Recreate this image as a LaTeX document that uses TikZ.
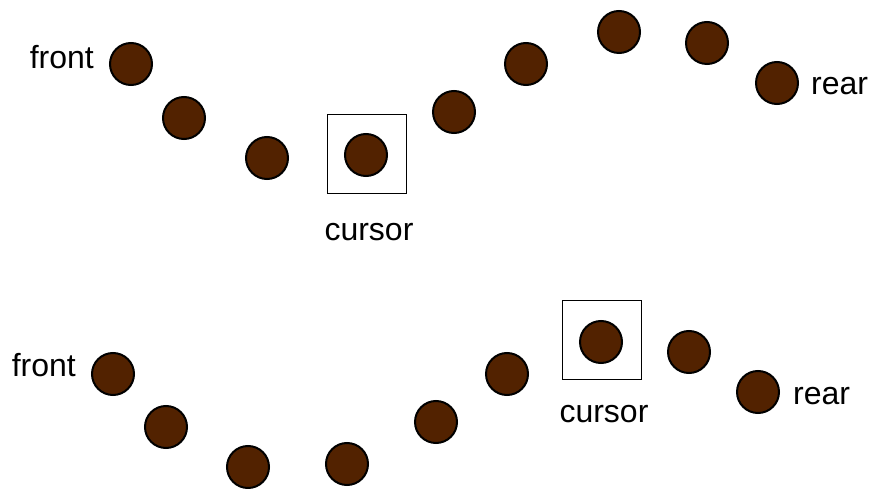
\documentclass[tikz,border=0pt]{standalone}
\usepackage{fontspec}
\setmainfont{Liberation Sans}
\usetikzlibrary{positioning}
\definecolor{beadbrown}{RGB}{82,34,0}

\begin{document}
\begin{tikzpicture}[x=1pt,y=-1pt,
  bead/.style={circle,draw,line width=2pt,fill=beadbrown,minimum size=42pt,inner sep=0pt},
  cursorbox/.style={draw,line width=1.6pt,minimum size=79pt,inner sep=0pt},
  lbl/.style={inner sep=0pt,font=\fontsize{32}{38}\selectfont}]
\useasboundingbox (0,0) rectangle (871,489);
% first list
\node[bead] (A1) at (131,64) {};
\node[bead] (A2) at (184,118) {};
\node[bead] (A3) at (267,158) {};
\node[bead] (A4) at (366,155) {};
\node[bead] (A5) at (454,112) {};
\node[bead] (A6) at (526,64) {};
\node[bead] (A7) at (619,32) {};
\node[bead] (A8) at (707,43) {};
\node[bead] (A9) at (777,83) {};
\node[cursorbox] (CURA) at (367,154) {};
\node[lbl,anchor=base east] (FRONTA) at (94,69) {front};
\node[lbl,anchor=base west] (REARA) at (811,95) {rear};
\node[lbl,anchor=base] (CURLBLA) at (369,241) {cursor};
% second list
\node[bead] (B1) at (113,374) {};
\node[bead] (B2) at (166,427) {};
\node[bead] (B3) at (248,467) {};
\node[bead] (B4) at (347,464) {};
\node[bead] (B5) at (436,422) {};
\node[bead] (B6) at (507,374) {};
\node[bead] (B7) at (601,342) {};
\node[bead] (B8) at (689,352) {};
\node[bead] (B9) at (758,392) {};
\node[cursorbox] (CURB) at (602,340) {};
\node[lbl,anchor=base east] (FRONTB) at (76,377) {front};
\node[lbl,anchor=base west] (REARB) at (793,404) {rear};
\node[lbl,anchor=base] (CURLBLB) at (604,422) {cursor};
\end{tikzpicture}
\end{document}
